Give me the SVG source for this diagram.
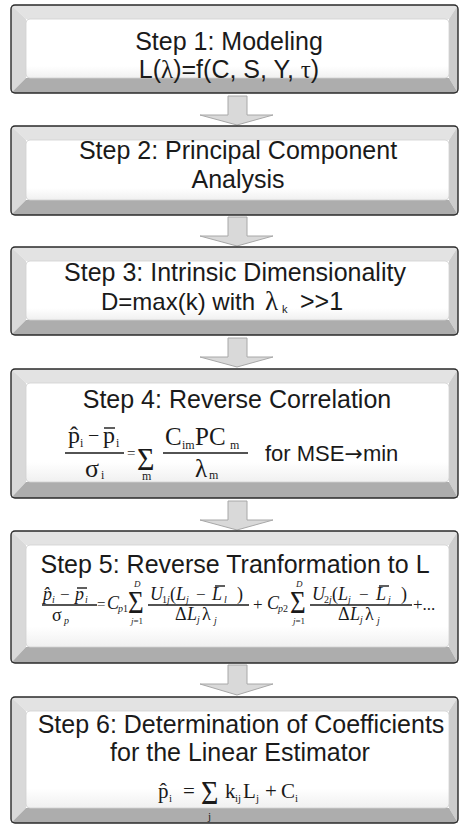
<svg xmlns="http://www.w3.org/2000/svg" width="459" height="825" viewBox="0 0 459 825">
<defs>
<linearGradient id="panel" x1="0" y1="0" x2="0" y2="1">
<stop offset="0" stop-color="#ffffff"/>
<stop offset="0.8" stop-color="#ffffff"/>
<stop offset="1" stop-color="#f0f0f0"/>
</linearGradient>
<style>
.bt{fill:#e3e3e3}
.bl{fill:#d9d9d9}
.br{fill:#cdcdcd}
.bb{fill:#adadad}
.panel{fill:url(#panel);stroke:#d0d0d0;stroke-width:0.8}
.frame{fill:none;stroke:#2a2a2a;stroke-width:1.4}
.title{font-family:"Liberation Sans",Arial,sans-serif;font-size:25px;fill:#1a1a1a;text-anchor:middle}
.sans{font-family:"Liberation Sans",Arial,sans-serif;fill:#1a1a1a}
.m{font-family:"Liberation Serif","Times New Roman",serif;fill:#1a1a1a}
.it{font-style:italic}
.arr{font-family:"DejaVu Sans",sans-serif}
.rule{stroke:#1a1a1a;stroke-width:1.4}
.arrow{fill:#d9d9d9;stroke:#a8a8a8;stroke-width:1}
</style>
</defs>

<g id="connectors">
<path class="arrow" d="M228,96 H247 V115 H273 L237,125 L200,115 H228 Z"/>
<path class="arrow" d="M228,217 H247 V236 H273 L237,246 L200,236 H228 Z"/>
<path class="arrow" d="M228,338 H247 V357 H273 L237,367 L200,357 H228 Z"/>
<path class="arrow" d="M228,501 H247 V520 H273 L237,530 L200,520 H228 Z"/>
<path class="arrow" d="M228,665 H247 V684 H273 L237,695 L200,684 H228 Z"/>
</g>

<g id="step1">
<polygon class="bt" points="11,5 458,5 449,19 26,19"/>
<polygon class="bl" points="11,5 26,19 26,78 11,93"/>
<polygon class="br" points="458,5 458,93 449,78 449,19"/>
<polygon class="bb" points="11,93 26,78 449,78 458,93"/>
<rect class="panel" x="26" y="19" width="423" height="59" rx="4"/>
<rect class="frame" x="11" y="5" width="447" height="88" rx="4"/>
<text class="title" x="229" y="50">Step 1: Modeling</text>
<text class="title" x="229" y="78">L(<tspan class="m">λ</tspan>)=f(C, S, Y, <tspan class="m">τ</tspan>)</text>
</g>

<g id="step2">
<polygon class="bt" points="11,126 458,126 449,140 26,140"/>
<polygon class="bl" points="11,126 26,140 26,200 11,215"/>
<polygon class="br" points="458,126 458,215 449,200 449,140"/>
<polygon class="bb" points="11,215 26,200 449,200 458,215"/>
<rect class="panel" x="26" y="140" width="423" height="60" rx="4"/>
<rect class="frame" x="11" y="126" width="447" height="89" rx="4"/>
<text class="title" x="238" y="159">Step 2: Principal Component</text>
<text class="title" x="238" y="188">Analysis</text>
</g>

<g id="step3">
<polygon class="bt" points="11,247 458,247 449,261 26,261"/>
<polygon class="bl" points="11,247 26,261 26,320 11,335"/>
<polygon class="br" points="458,247 458,335 449,320 449,261"/>
<polygon class="bb" points="11,335 26,320 449,320 458,335"/>
<rect class="panel" x="26" y="261" width="423" height="59" rx="4"/>
<rect class="frame" x="11" y="247" width="447" height="88" rx="4"/>
<text class="title" x="235" y="281">Step 3: Intrinsic Dimensionality</text>
<text class="sans" font-size="24" x="101" y="310">D=max(k) with</text>
<text class="m" font-size="27" x="265" y="310">λ</text>
<text class="sans" font-size="11" x="282" y="313">k</text>
<text class="sans" font-size="25" x="300" y="310">&gt;&gt;1</text>
</g>

<g id="step4">
<polygon class="bt" points="11,369 458,369 449,383 26,383"/>
<polygon class="bl" points="11,369 26,383 26,482 11,498"/>
<polygon class="br" points="458,369 458,498 449,482 449,383"/>
<polygon class="bb" points="11,498 26,482 449,482 458,498"/>
<rect class="panel" x="26" y="383" width="423" height="99" rx="4"/>
<rect class="frame" x="11" y="369" width="447" height="129" rx="4"/>
<text class="title" x="237" y="408">Step 4: Reverse Correlation</text>
<text class="m" font-size="24" x="68" y="443">p&#x302;</text>
<text class="m" font-size="12" x="80" y="447">i</text>
<text class="m" font-size="20" x="88" y="442">−</text>
<text class="m" font-size="24" x="103" y="443">p</text>
<line class="rule" x1="104" y1="428" x2="115" y2="428"/>
<text class="m" font-size="12" x="116" y="447">i</text>
<line class="rule" x1="65" y1="453" x2="124" y2="453"/>
<text class="m" font-size="26" x="85" y="477">σ</text>
<text class="m" font-size="12" x="101" y="479">i</text>
<text class="m" font-size="15" x="127" y="458">=</text>
<text class="m" font-size="30" transform="translate(137,470) scale(1,1.05)">Σ</text>
<text class="m" font-size="12" x="142" y="480">m</text>
<text class="m" font-size="25" x="165" y="445">C</text>
<text class="m" font-size="12" x="182" y="449">im</text>
<text class="m" font-size="25" x="195" y="445">PC</text>
<text class="m" font-size="12" x="230" y="449">m</text>
<line class="rule" x1="163" y1="453" x2="248" y2="453"/>
<text class="m" font-size="25" x="195" y="477">λ</text>
<text class="m" font-size="12" x="209" y="479">m</text>
<text class="sans" font-size="22" x="265" y="461">for MSE<tspan class="arr">→</tspan>min</text>
</g>

<g id="step5">
<polygon class="bt" points="11,531 458,531 449,545 26,545"/>
<polygon class="bl" points="11,531 26,545 26,647 11,663"/>
<polygon class="br" points="458,531 458,663 449,647 449,545"/>
<polygon class="bb" points="11,663 26,647 449,647 458,663"/>
<rect class="panel" x="26" y="545" width="423" height="102" rx="4"/>
<rect class="frame" x="11" y="531" width="447" height="132" rx="4"/>
<text class="title" x="235" y="573">Step 5: Reverse Tranformation to L</text>
<text class="m it" font-size="18" x="43" y="600">p&#x302;</text>
<text class="m it" font-size="10" x="52" y="603">i</text>
<text class="m" font-size="17" x="60" y="600">−</text>
<text class="m it" font-size="18" x="75" y="600">p</text>
<line class="rule" x1="77" y1="588" x2="87" y2="588" stroke-width="1.2"/>
<text class="m it" font-size="10" x="85" y="603">i</text>
<line class="rule" x1="42" y1="605" x2="97" y2="605" stroke-width="1.2"/>
<text class="m" font-size="18" x="52" y="621">σ</text>
<text class="m it" font-size="10" x="64" y="624">p</text>
<text class="m" font-size="15" x="97" y="609">=</text>
<text class="m it" font-size="18" x="107" y="609">C</text>
<text class="m" font-size="10" x="118" y="612"><tspan class="it">p</tspan>1</text>
<text class="m" font-size="27" transform="translate(128,613) scale(1,1.15)">Σ</text>
<text class="m it" font-size="9" x="134" y="587">D</text>
<text class="m" font-size="9" x="131" y="624"><tspan class="it">j</tspan>=1</text>
<text class="m it" font-size="18" x="150" y="600">U</text>
<text class="m" font-size="10" x="162" y="603">1<tspan class="it">j</tspan></text>
<text class="m" font-size="18" x="170" y="600">(</text>
<text class="m it" font-size="18" x="176" y="600">L</text>
<text class="m it" font-size="10" x="186" y="603">j</text>
<text class="m" font-size="17" x="196" y="600">−</text>
<text class="m it" font-size="18" x="212" y="600">L</text>
<line class="rule" x1="215" y1="586" x2="225" y2="586" stroke-width="1.2"/>
<text class="m it" font-size="10" x="224" y="603">l</text>
<text class="m" font-size="18" x="237" y="600">)</text>
<line class="rule" x1="148" y1="605" x2="249" y2="605" stroke-width="1.2"/>
<text class="m" font-size="18" x="175" y="620">Δ</text>
<text class="m it" font-size="18" x="187" y="620">L</text>
<text class="m it" font-size="10" x="197" y="623">j</text>
<text class="m" font-size="18" x="202" y="620">λ</text>
<text class="m it" font-size="10" x="214" y="624">j</text>
<text class="m" font-size="17" x="253" y="610">+</text>
<text class="m it" font-size="18" x="267" y="609">C</text>
<text class="m" font-size="10" x="278" y="612"><tspan class="it">p</tspan>2</text>
<text class="m" font-size="27" transform="translate(290,613) scale(1,1.15)">Σ</text>
<text class="m it" font-size="9" x="296" y="587">D</text>
<text class="m" font-size="9" x="293" y="624"><tspan class="it">j</tspan>=1</text>
<text class="m it" font-size="18" x="312" y="600">U</text>
<text class="m" font-size="10" x="324" y="603">2<tspan class="it">j</tspan></text>
<text class="m" font-size="18" x="332" y="600">(</text>
<text class="m it" font-size="18" x="338" y="600">L</text>
<text class="m it" font-size="10" x="348" y="603">j</text>
<text class="m" font-size="17" x="359" y="600">−</text>
<text class="m it" font-size="18" x="376" y="600">L</text>
<line class="rule" x1="379" y1="586" x2="389" y2="586" stroke-width="1.2"/>
<text class="m it" font-size="10" x="388" y="603">j</text>
<text class="m" font-size="18" x="401" y="600">)</text>
<line class="rule" x1="310" y1="605" x2="412" y2="605" stroke-width="1.2"/>
<text class="m" font-size="18" x="338" y="620">Δ</text>
<text class="m it" font-size="18" x="350" y="620">L</text>
<text class="m it" font-size="10" x="360" y="623">j</text>
<text class="m" font-size="18" x="365" y="620">λ</text>
<text class="m it" font-size="10" x="377" y="624">j</text>
<text class="m" font-size="17" x="413" y="610">+...</text>
</g>

<g id="step6">
<polygon class="bt" points="11,697 458,697 449,711 26,711"/>
<polygon class="bl" points="11,697 26,711 26,808 11,823"/>
<polygon class="br" points="458,697 458,823 449,808 449,711"/>
<polygon class="bb" points="11,823 26,808 449,808 458,823"/>
<rect class="panel" x="26" y="711" width="423" height="97" rx="4"/>
<rect class="frame" x="11" y="697" width="447" height="126" rx="4"/>
<text class="title" x="241" y="733">Step 6: Determination of Coefficients</text>
<text class="title" x="240" y="761">for the Linear Estimator</text>
<text class="m" font-size="21" x="158" y="798">p&#x302;</text>
<text class="m" font-size="11" x="169" y="802">i</text>
<text class="m" font-size="21" x="183" y="798">=</text>
<text class="m" font-size="30" transform="translate(201,804) scale(1,1.12)">Σ</text>
<text class="m" font-size="11" x="208" y="820">j</text>
<text class="m" font-size="21" x="225" y="798">k</text>
<text class="m" font-size="11" x="235" y="802">ij</text>
<text class="m" font-size="21" x="243" y="798">L</text>
<text class="m" font-size="11" x="256" y="802">j</text>
<text class="m" font-size="21" x="265" y="798">+</text>
<text class="m" font-size="21" x="281" y="798">C</text>
<text class="m" font-size="11" x="295" y="802">i</text>
</g>
</svg>
